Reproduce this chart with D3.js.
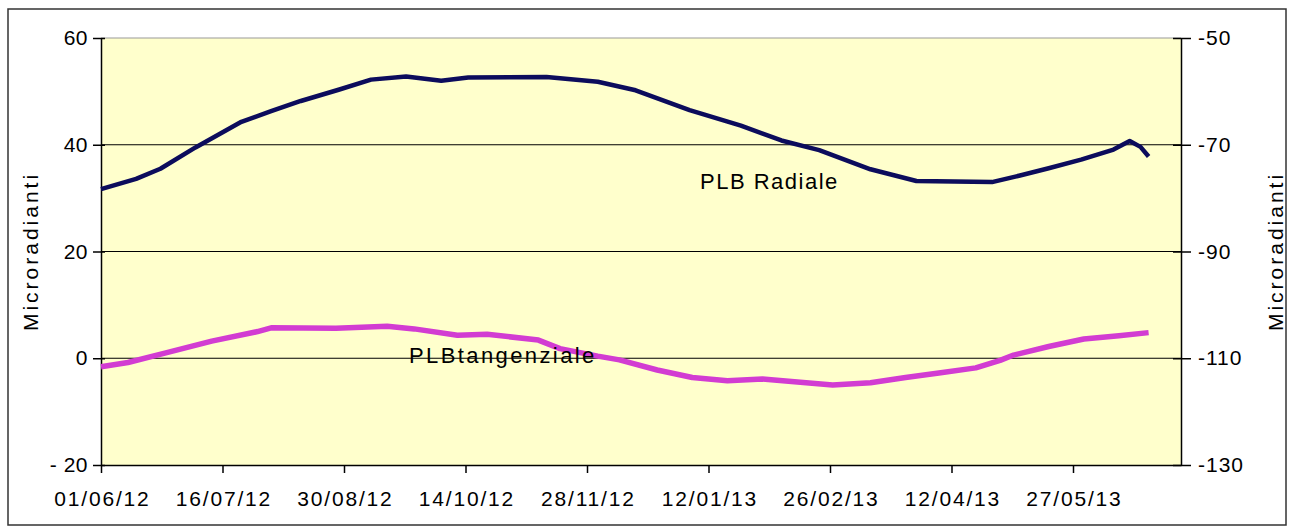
<!DOCTYPE html>
<html>
<head>
<meta charset="utf-8">
<script src="https://cdn.jsdelivr.net/npm/d3@7"></script>
<style>
  html, body { margin: 0; padding: 0; background: #ffffff; }
  svg { display: block; }
  text { font-family: "Liberation Sans", Arial, sans-serif; fill: #000; }
</style>
</head>
<body>
<svg id="chart" width="1293" height="531"></svg>
<script>
// ---- data ----
const xTickLabels = ["01/06/12","16/07/12","30/08/12","14/10/12","28/11/12","12/01/13","26/02/13","12/04/13","27/05/13"];
const xDomain = ["01/06/12","06/07/13"];
const leftTicks = [-20, 0, 20, 40, 60];
const rightTicks = [-130, -110, -90, -70, -50];

const radialeDates = ["01/06/12","14/06/12","23/06/12","06/07/12","23/07/12","03/08/12","14/08/12","28/08/12","09/09/12","22/09/12","05/10/12","15/10/12","13/11/12","02/12/12","16/12/12","05/01/13","24/01/13","08/02/13","22/02/13","13/03/13","30/03/13","27/04/13","07/05/13","18/05/13","30/05/13","11/06/13","17/06/13","21/06/13","24/06/13"];
const radialeValues = [31.7,33.6,35.5,39.5,44.3,46.3,48.2,50.3,52.2,52.8,52.0,52.6,52.7,51.8,50.2,46.5,43.6,40.8,39.0,35.4,33.2,33.0,34.2,35.6,37.2,39.1,40.7,39.6,37.8];

const tangDates = ["01/06/12","11/06/12","25/06/12","12/07/12","29/07/12","03/08/12","27/08/12","15/09/12","25/09/12","11/10/12","22/10/12","10/11/12","18/11/12","02/12/12","10/12/12","24/12/12","06/01/13","19/01/13","01/02/13","15/02/13","27/02/13","13/03/13","26/03/13","08/04/13","21/04/13","30/04/13","05/05/13","18/05/13","31/05/13","13/06/13","24/06/13"];
// plotted on the secondary (right) axis
const tangValues = [-111.6,-110.8,-109.0,-106.8,-105.0,-104.3,-104.4,-104.0,-104.5,-105.7,-105.5,-106.6,-108.2,-109.6,-110.3,-112.2,-113.6,-114.2,-113.9,-114.5,-115.0,-114.6,-113.6,-112.7,-111.8,-110.4,-109.4,-107.8,-106.4,-105.8,-105.2];

const seriesNames = ["PLB Radiale", "PLBtangenziale"];
const axisTitle = "Microradianti";

// ---- layout ----
const parse = d3.timeParse("%d/%m/%y");
const L = 101, R = 1181, T = 38, B = 465;
const FS = 21;
const svg = d3.select("#chart");

const x = d3.scaleTime().domain(xDomain.map(parse)).range([L, R]);
const yL = d3.scaleLinear().domain([-20, 60]).range([B, T]);
const yR = d3.scaleLinear().domain([-130, -50]).range([B, T]);

// outer frame
svg.append("rect").attr("x", 8).attr("y", 9).attr("width", 1278).attr("height", 516)
  .attr("fill", "#fff").attr("stroke", "#333").attr("stroke-width", 1.5);

// plot background
svg.append("rect").attr("x", L).attr("y", T).attr("width", R - L).attr("height", B - T)
  .attr("fill", "#ffffcc");

// gridlines
svg.append("g").selectAll("line").data(leftTicks.filter(v => v > -20)).join("line")
  .attr("x1", L).attr("x2", R)
  .attr("y1", d => yL(d)).attr("y2", d => yL(d))
  .attr("stroke", d => d === 60 ? "#9a9a9a" : "#000").attr("stroke-width", 1.2);

// axes
const fmt = d3.timeFormat("%d/%m/%y");
const xAxis = d3.axisBottom(x).tickValues(xTickLabels.map(parse)).tickFormat(fmt).tickSize(8).tickSizeOuter(0).tickPadding(18);
const gx = svg.append("g").attr("transform", `translate(0,${B})`).call(xAxis);
gx.select(".domain").attr("stroke", "#000").attr("stroke-width", 1.5);
gx.selectAll(".tick line").attr("stroke", "#000").attr("stroke-width", 1.5);
gx.selectAll(".tick text").attr("font-size", FS).attr("letter-spacing", "1.8px").attr("dx", "0.9px");

const gl = svg.append("g").attr("transform", `translate(${L},0)`)
  .call(d3.axisLeft(yL).tickValues(leftTicks).tickFormat(d => d < 0 ? "- " + Math.abs(d) : String(d)).tickSize(8).tickSizeOuter(0).tickPadding(5));
gl.select(".domain").attr("stroke", "#000").attr("stroke-width", 1.5);
gl.selectAll(".tick line").attr("stroke", "#000").attr("stroke-width", 1.5).attr("x1", 4);
gl.selectAll(".tick text").attr("font-size", FS).attr("letter-spacing", "0.5px");

const gr = svg.append("g").attr("transform", `translate(${R},0)`)
  .call(d3.axisRight(yR).tickValues(rightTicks).tickFormat(d => String(d)).tickSize(10).tickSizeOuter(0).tickPadding(7));
gr.select(".domain").attr("stroke", "#000").attr("stroke-width", 1.5);
gr.selectAll(".tick line").attr("stroke", "#000").attr("stroke-width", 1.5).attr("x1", -8);
gr.selectAll(".tick text").attr("font-size", FS).attr("letter-spacing", "1px");

// axis titles
svg.append("text").attr("transform", `translate(38,${(T + B) / 2}) rotate(-90)`)
  .attr("text-anchor", "middle").attr("font-size", FS).attr("letter-spacing", "3px").text(axisTitle);
svg.append("text").attr("transform", `translate(1283,${(T + B) / 2}) rotate(-90)`)
  .attr("text-anchor", "middle").attr("font-size", FS).attr("letter-spacing", "3px").text(axisTitle);

// lines
const radData = radialeDates.map((d, i) => ({ d: parse(d), v: radialeValues[i] }));
const tanData = tangDates.map((d, i) => ({ d: parse(d), v: tangValues[i] }));

svg.append("path").datum(tanData)
  .attr("fill", "none").attr("stroke", "#d23cd2").attr("stroke-width", 5.5).attr("stroke-linejoin", "round")
  .attr("d", d3.line().x(p => x(p.d)).y(p => yR(p.v)));

svg.append("path").datum(radData)
  .attr("fill", "none").attr("stroke", "#0c0c5c").attr("stroke-width", 4.5).attr("stroke-linejoin", "round")
  .attr("d", d3.line().x(p => x(p.d)).y(p => yL(p.v)));

// series labels
svg.append("text").attr("x", 700).attr("y", 189).attr("font-size", 22).attr("letter-spacing", "1.5px")
  .text(seriesNames[0]);
svg.append("text").attr("x", 409).attr("y", 363).attr("font-size", 22).attr("letter-spacing", "2.4px")
  .text(seriesNames[1]);
</script>
</body>
</html>
